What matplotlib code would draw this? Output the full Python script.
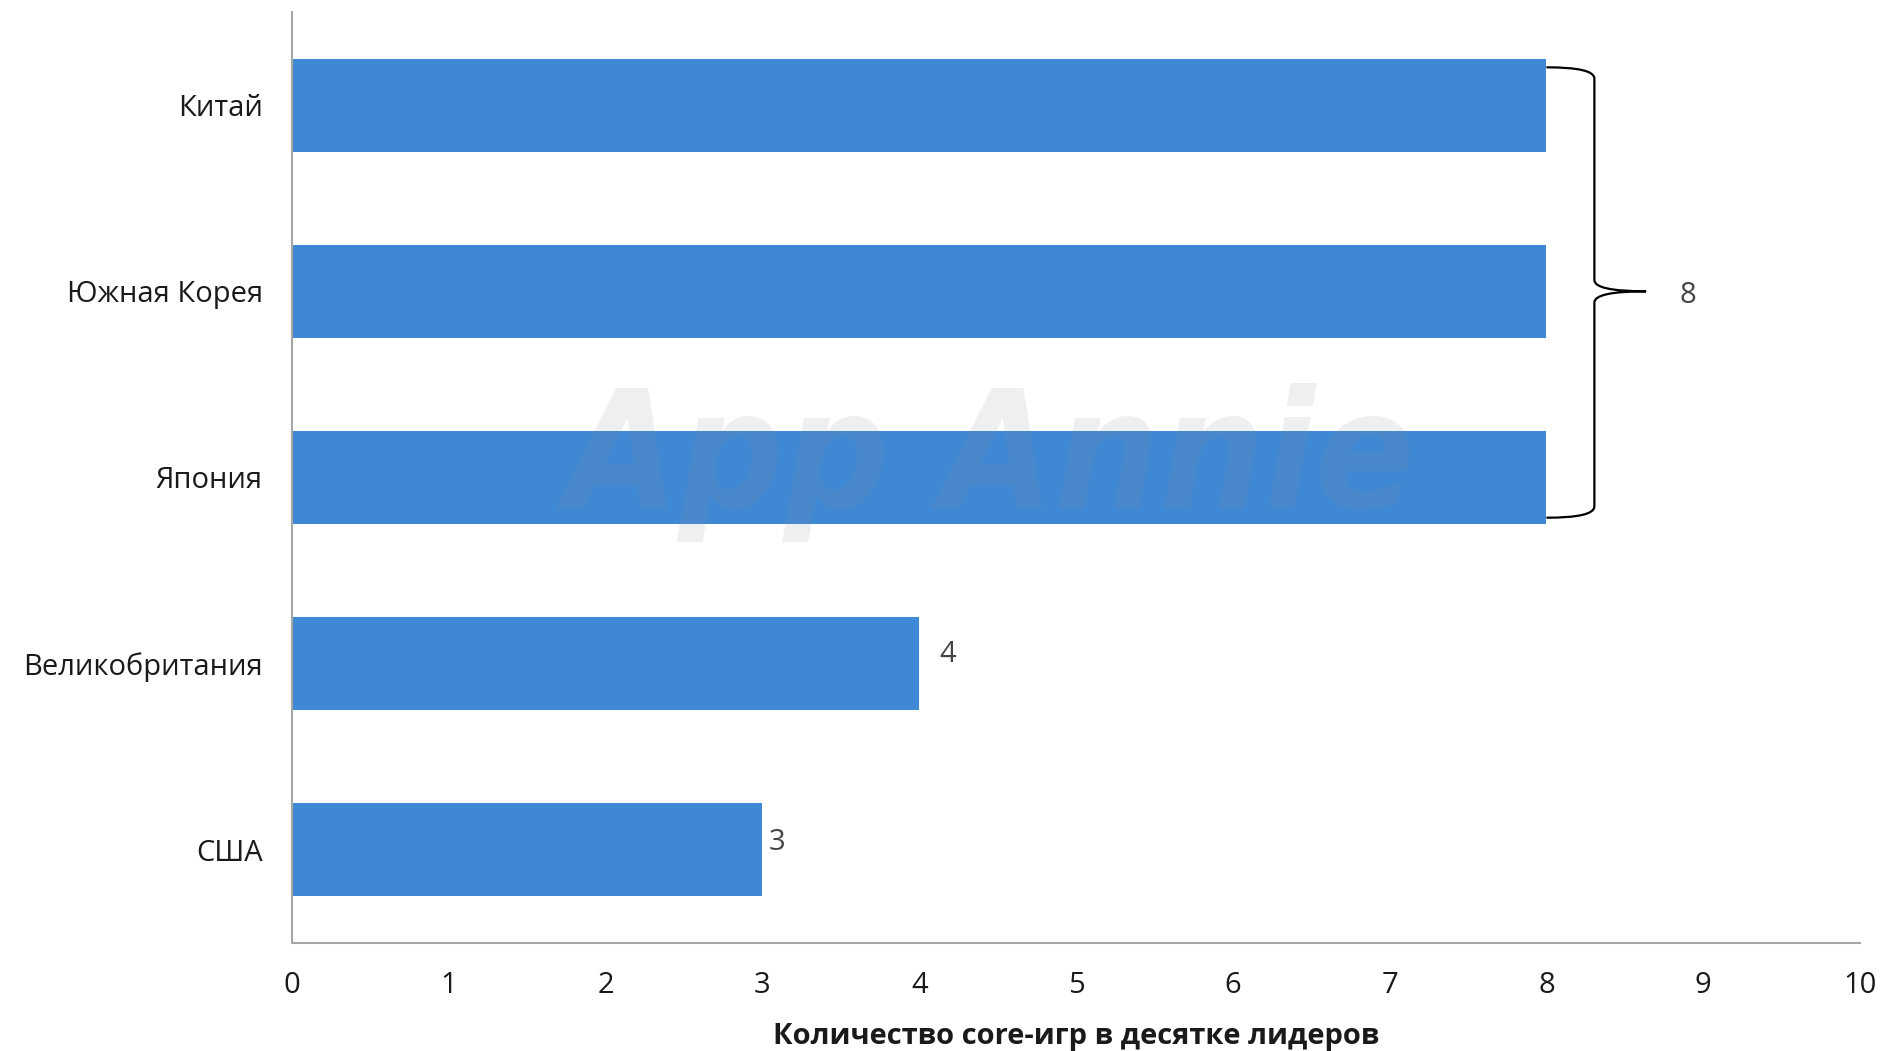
import matplotlib
matplotlib.use("Agg")
import matplotlib.pyplot as plt
from matplotlib.path import Path
from matplotlib.patches import PathPatch

countries = ["США", "Великобритания", "Япония", "Южная Корея", "Китай"]
values = [3, 4, 8, 8, 8]
xticks = [0, 1, 2, 3, 4, 5, 6, 7, 8, 9, 10]
xlabel = "Количество core-игр в десятке лидеров"
brace_label = "8"
watermark = "App Annie"

plt.rcParams['font.family'] = ['Open Sans', 'DejaVu Sans']

fig = plt.figure(figsize=(18.84, 10.51), dpi=100)
ax = fig.add_axes([292/1884, 1 - 943/1051, (1860-292)/1884, (943-12)/1051])

bar_color = "#3e88d4"
y = list(range(len(countries)))
ax.barh(y, values, height=0.5, color=bar_color, zorder=2)

ax.set_xlim(0, 10)
ax.set_ylim(-0.5, 4.5)
ax.set_yticks(y)
ax.set_yticklabels(countries, fontsize=21, color="#1a1a1a")
ax.set_xticks(xticks)
ax.set_xticklabels([str(t) for t in xticks], fontsize=21, color="#1a1a1a")
ax.tick_params(axis='both', length=0)
ax.tick_params(axis='y', pad=21)
ax.tick_params(axis='x', pad=20)
for s in ["top", "right"]:
    ax.spines[s].set_visible(False)
for s in ["left", "bottom"]:
    ax.spines[s].set_color("#a6a6a6")
    ax.spines[s].set_linewidth(1.5)

ax.set_xlabel(xlabel, fontsize=21, fontweight="bold", color="#1a1a1a", labelpad=16)

# value labels for the non-bracketed bars
ax.text(values[1] + 0.13, 1.05, str(values[1]), fontsize=21, color="#444444", va="center", ha="left")
ax.text(values[0] + 0.04, 0.04, str(values[0]), fontsize=21, color="#444444", va="center", ha="left")

# brace grouping top three bars
x0, xv, xt = 8.0, 8.306, 8.636
yt, ym, yb = 4.203, 3.0, 1.784
verts = [
    (x0, yt), (xv, yt), (xv, yt - 0.06),
    (xv, ym + 0.06),
    (xv, ym), (xt, ym),
    (xv, ym), (xv, ym - 0.06),
    (xv, yb + 0.06),
    (xv, yb), (x0, yb),
]
codes = [Path.MOVETO, Path.CURVE3, Path.CURVE3,
         Path.LINETO,
         Path.CURVE3, Path.CURVE3,
         Path.CURVE3, Path.CURVE3,
         Path.LINETO,
         Path.CURVE3, Path.CURVE3]
ax.add_patch(PathPatch(Path(verts, codes), fill=False, edgecolor="black", lw=1.6, clip_on=False, zorder=3))
ax.text(8.9, 2.98, brace_label, fontsize=21, color="#444444", va="center", ha="center")

# watermark
ax.text(4.45, 2.08, watermark, fontsize=118, fontstyle="italic", fontweight="bold",
        fontstretch="condensed",
        color="#8a8f99", alpha=0.14, ha="center", va="center", zorder=4,
        family=["DejaVu Sans"])

fig.savefig("out.png", dpi=100, facecolor="white")
